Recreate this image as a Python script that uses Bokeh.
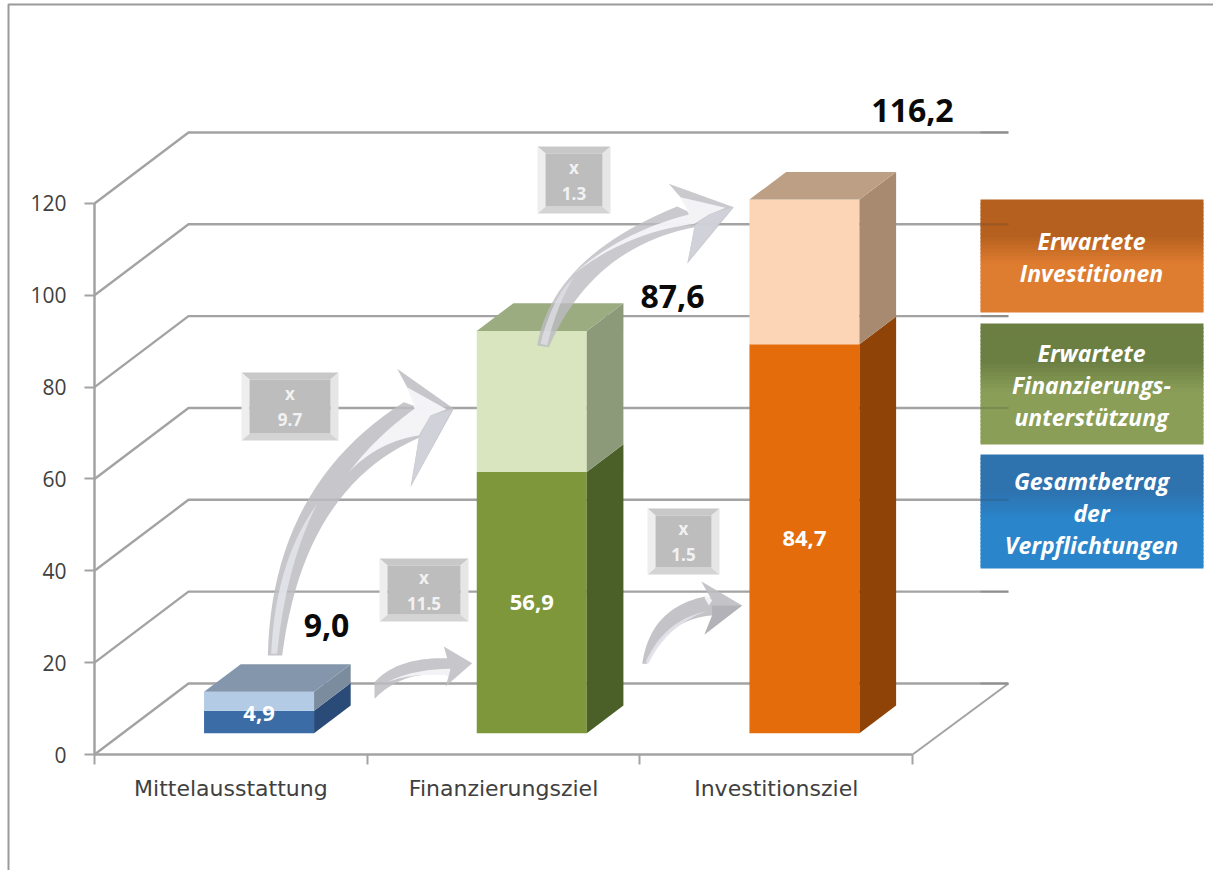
from bokeh.core.properties import value
from bokeh.embed import file_html
from bokeh.models import FixedTicker, Range1d
from bokeh.plotting import figure
from bokeh.resources import INLINE

# --- chart values ---
categories = ["Mittelausstattung", "Finanzierungsziel", "Investitionsziel"]
commitments = [4.9, 56.9, 84.7]
totals = [9.0, 87.6, 116.2]
commitment_labels = ["4,9", "56,9", "84,7"]
total_labels = ["9,0", "87,6", "116,2"]
y_ticks = [0, 20, 40, 60, 80, 100, 120]
multipliers = ["9.7", "11.5", "1.3", "1.5"]
legend_labels = [
    ["Erwartete", "Investitionen"],
    ["Erwartete", "Finanzierungs-", "unterstützung"],
    ["Gesamtbetrag", "der", "Verpflichtungen"],
]

# --- page geometry: the plot frame fills the window, axes sit at data zero ---
W, H = 1213, 870
CAT_PX, UNIT_PX = 272.7, 4.592
X0_PX, Y0_PX = 94, 754


def fx(px):
    return (px - X0_PX) / CAT_PX


def fy(py):
    return (Y0_PX - py) / UNIT_PX


DEPTH_X, DEPTH_Y = 94 / CAT_PX, 71 / UNIT_PX
WALL_END = fx(1008)
BAR_W = 110 / CAT_PX
T_FRONT, T_BACK = 0.30, 0.69
GRID = "#a3a3a3"
FONT = value("Open Sans")

p = figure(
    width=W, height=H, output_backend="svg", toolbar_location=None,
    x_range=Range1d(fx(0), fx(W)), y_range=Range1d(fy(H), fy(0)),
    min_border=0, outline_line_color=None, background_fill_color="#ffffff",
)
p.grid.visible = False

# --- axes: category names sit between the separator ticks ---
p.yaxis.fixed_location = 0
p.xaxis.fixed_location = 0
p.yaxis.bounds = (0, 120)
p.xaxis.bounds = (0, 3)
p.yaxis.ticker = FixedTicker(ticks=y_ticks)
centres = [i + 0.5 for i in range(len(categories))]
p.xaxis.ticker = FixedTicker(ticks=centres, minor_ticks=[0, 1, 2, 3])
p.xaxis.major_label_overrides = dict(zip(centres, categories))
for ax in (p.xaxis, p.yaxis):
    ax.axis_line_color = GRID
    ax.axis_line_width = 2.5
    ax.major_tick_in = 0
p.yaxis.major_tick_line_color = GRID
p.yaxis.major_tick_line_width = 2
p.yaxis.major_tick_out = 10
p.yaxis.minor_tick_line_color = None
p.xaxis.major_tick_line_color = None
p.xaxis.major_tick_out = 0
p.xaxis.minor_tick_line_color = GRID
p.xaxis.minor_tick_line_width = 2
p.xaxis.minor_tick_in = 0
p.xaxis.minor_tick_out = 10
p.xaxis.major_label_text_font = "DejaVu Sans"
p.xaxis.major_label_text_font_size = "22px"
p.xaxis.major_label_text_color = "#404040"
p.xaxis.major_label_standoff = 11
p.yaxis.major_label_text_font = "Open Sans"
p.yaxis.major_label_text_font_size = "21px"
p.yaxis.major_label_text_color = "#404040"
p.yaxis.major_label_standoff = 18

# frame around the whole chart: left and top edges
p.line([fx(8), fx(8), fx(W)], [fy(H), fy(4), fy(4)], line_color="#9a9a9a", line_width=2)

# --- back wall and floor ---
for tick in y_ticks:
    xs = [0, DEPTH_X, WALL_END]
    ys = [tick, tick + DEPTH_Y, tick + DEPTH_Y]
    p.line(xs, ys, line_color=GRID, line_width=2.4)
p.line([3, WALL_END], [0, DEPTH_Y], line_color=GRID, line_width=2)

# --- stacked bars with depth ---
bar_styles = [
    dict(front="#3b6ca6", side="#2a4b78", light="#b4cbe6", light_side="#7c8c9f", top="#8496ab"),
    dict(front="#7d973a", side="#4b5f28", light="#d9e5bf", light_side="#8d9a7a", top="#9aac80"),
    dict(front="#e46c0a", side="#8f4306", light="#fbd5b5", light_side="#a88a70", top="#bc9f84"),
]
base = T_FRONT * DEPTH_Y
dx = (T_BACK - T_FRONT) * DEPTH_X
dy = (T_BACK - T_FRONT) * DEPTH_Y
for i, style in enumerate(bar_styles):
    left = i + 0.5 - BAR_W / 2 + T_FRONT * DEPTH_X
    right = left + BAR_W
    low, high = base + commitments[i], base + totals[i]
    p.quad(left=left, right=right, bottom=base, top=low,
           fill_color=style["front"], line_color=None)
    p.quad(left=left, right=right, bottom=low, top=high,
           fill_color=style["light"], line_color=None)
    p.patch([right, right + dx, right + dx, right], [base, base + dy, low + dy, low],
            fill_color=style["side"], line_color=None)
    p.patch([right, right + dx, right + dx, right], [low, low + dy, high + dy, high],
            fill_color=style["light_side"], line_color=None)
    p.patch([left, left + dx, right + dx, right], [high, high + dy, high + dy, high],
            fill_color=style["top"], line_color=None)


# --- curved multiplier arrows, outlined with quadratic segments ---
def path(origin, start, *segments):
    pts = [start]
    for seg in segments:
        if len(seg) == 2:
            pts.append(seg)
        else:
            (x0, y0), (cx, cy, x1, y1) = pts[-1], seg
            for k in range(1, 25):
                t = k / 24
                pts.append(((1 - t) ** 2 * x0 + 2 * t * (1 - t) * cx + t ** 2 * x1,
                            (1 - t) ** 2 * y0 + 2 * t * (1 - t) * cy + t ** 2 * y1))
    return ([fx(origin[0] + a / 3) for a, _ in pts], [fy(origin[1] + b / 3) for _, b in pts])


BODY, BARB, SHINE, HOLLOW, DARK = "#bcbcc2", "#d2d2da", "#e2e2ea", "#f7f7fb", "#b0b0b6"
arrow_layers = [
    # large arrow to the financing bar
    ((230, 360), BODY, 0.85, [(112, 885), (124, 376, 520, 125), (555, 137), (530, 80), (500, 25),
                              (670, 145), (540, 380), (565, 232), (220, 382, 155, 885)]),
    ((230, 360), HOLLOW, 0.92, [(355, 335), (440, 225, 552, 145), (530, 80), (648, 146), (600, 165),
                                (565, 225), (440, 245, 355, 335)]),
    ((230, 360), BARB, 0.9, [(665, 147), (543, 375), (565, 232), (600, 165)]),
    ((230, 360), SHINE, 0.9, [(122, 880), (135, 600, 260, 430), (165, 620, 140, 880)]),
    # small arrow along the floor
    ((230, 360), BODY, 0.85, [(432, 1015), (432, 965), (500, 890, 650, 893), (640, 858), (725, 908),
                              (645, 978), (655, 945), (520, 925, 432, 1015)]),
    ((230, 360), HOLLOW, 0.9, [(470, 965), (550, 925, 660, 925), (655, 945), (550, 935, 470, 965)]),
    # arrow from the financing bar to the investment bar
    ((520, 90), BODY, 0.8, [(50, 765), (95, 500, 470, 348), (507, 365), (480, 320), (445, 280),
                            (640, 350), (500, 520), (522, 410), (215, 470, 85, 770)]),
    ((520, 90), HOLLOW, 0.9, [(160, 550), (300, 425, 505, 372), (480, 320), (615, 352), (565, 372),
                              (522, 400), (320, 425, 160, 550)]),
    ((520, 90), BARB, 0.9, [(635, 352), (503, 512), (522, 405), (570, 370)]),
    ((520, 90), SHINE, 0.7, [(60, 760), (95, 620, 160, 560), (110, 640, 80, 765)]),
    # small arrow to the investment bar
    ((630, 490), BODY, 0.9, [(35, 520), (60, 350, 225, 318), (240, 322), (212, 272), (335, 345),
                             (222, 432), (245, 375), (110, 385, 50, 520)]),
    ((630, 490), SHINE, 0.9, [(45, 515), (100, 390, 228, 362), (110, 405, 55, 518)]),
    ((630, 490), DARK, 0.9, [(245, 345), (335, 345), (222, 432), (245, 375)]),
    ((630, 490), HOLLOW, 0.9, [(228, 310), (245, 330), (235, 345), (222, 322)]),
]
for origin, color, alpha, spec in arrow_layers:
    xs, ys = path(origin, spec[0], *spec[1:])
    p.patch(xs, ys, fill_color=color, fill_alpha=alpha, line_color=None)

# --- bevelled multiplier boxes ---
boxes = [(241, 338, 372, 440), (379, 468, 558, 621), (537, 610, 146, 213), (647, 719, 508, 574)]
BEVEL_X, BEVEL_Y = 8, 7
for label, (x0, x1, y0, y1) in zip(multipliers, boxes):
    ix0, ix1, iy0, iy1 = x0 + BEVEL_X, x1 - BEVEL_X, y0 + BEVEL_Y, y1 - BEVEL_Y
    for xs, ys, shade in [
        ([x0, x1, ix1, ix0], [y0, y0, iy0, iy0], "#c8c8c8"),
        ([x0, x1, ix1, ix0], [y1, y1, iy1, iy1], "#d4d4d4"),
        ([x0, ix0, ix0, x0], [y0, iy0, iy1, y1], "#eeeeee"),
        ([x1, ix1, ix1, x1], [y0, iy0, iy1, y1], "#e6e6e6"),
        ([ix0, ix1, ix1, ix0], [iy0, iy0, iy1, iy1], "#bdbdbd"),
    ]:
        p.patch([fx(a) for a in xs], [fy(b) for b in ys], fill_color=shade, line_color=None)
    mid = (x0 + x1) / 2
    p.text([fx(mid)], [fy((y0 + y1) / 2 - 13)], text=["x"], text_color="#f2f2f2", text_font=FONT,
           text_font_style="bold", text_font_size="17px", text_align="center", text_baseline="middle")
    p.text([fx(mid)], [fy((y0 + y1) / 2 + 13)], text=[label], text_color="#f2f2f2", text_font=FONT,
           text_font_style="bold", text_font_size="17px", text_align="center", text_baseline="middle")

# --- value labels ---
total_label_pos = [(326, 625), (672, 296), (912, 110)]
for i, (px, py) in enumerate(total_label_pos):
    p.text([fx(px)], [fy(py)], text=[total_labels[i]], text_color="#0a0a0a", text_font=FONT,
           text_font_style="bold", text_font_size="32px", text_align="center", text_baseline="middle")
for i in range(3):
    cx = i + 0.5 + T_FRONT * DEPTH_X
    p.text([cx], [base + commitments[i] / 2], text=[commitment_labels[i]], y_offset=[-8 if i == 0 else 0],
           text_color="#ffffff", text_font=FONT, text_font_style="bold", text_font_size="22px",
           text_align="center", text_baseline="middle")

# --- legend panels with a vertical shading ---
panels = [
    (199, 312, "#b5601f", "#de7c30"),
    (323, 444, "#6c7f43", "#8a9e58"),
    (454, 568, "#2e72ae", "#2a85cb"),
]


def blend(c0, c1, t):
    a = [int(c0[k:k + 2], 16) for k in (1, 3, 5)]
    b = [int(c1[k:k + 2], 16) for k in (1, 3, 5)]
    return "#%02x%02x%02x" % tuple(round(u + (v - u) * t) for u, v in zip(a, b))


STRIPS = 30
for (y0, y1, c0, c1), lines in zip(panels, legend_labels):
    step = (y1 - y0) / STRIPS
    for s in range(STRIPS):
        t = min(1, max(0, (s / STRIPS - 0.3) / 0.25))
        bottom = y0 + (s + 1) * step + (1.5 if s < STRIPS - 1 else 0)
        p.quad(left=fx(980), right=fx(1203), top=fy(y0 + s * step), bottom=fy(bottom),
               fill_color=blend(c0, c1, t), line_color=None)

# wall lines showing faintly through the panels
for tick in y_ticks:
    p.line([fx(980), WALL_END], [tick + DEPTH_Y, tick + DEPTH_Y], line_color="#303030",
           line_alpha=0.18, line_width=2.2)

for (y0, y1, c0, c1), lines in zip(panels, legend_labels):
    centre = (y0 + y1) / 2 + 1
    for n, line in enumerate(lines):
        p.text([fx(1091)], [fy(centre + (n - (len(lines) - 1) / 2) * 32)], text=[line],
               text_color="#ffffff", text_font=FONT, text_font_style="bold italic",
               text_font_size="23px", text_align="center", text_baseline="middle")

open("out.html", "w").write(file_html(p, INLINE))
